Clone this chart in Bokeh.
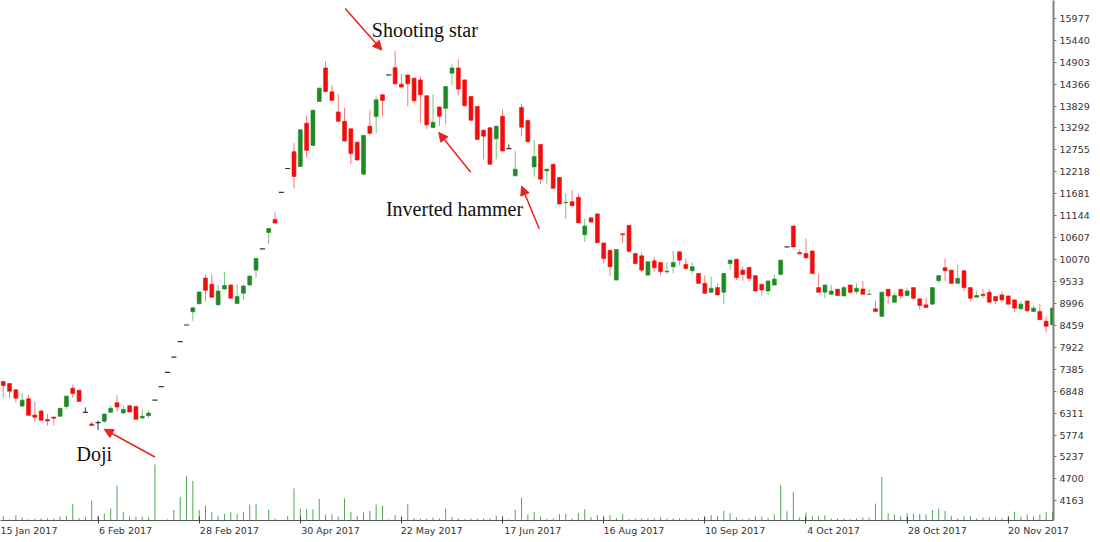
from bokeh.plotting import figure
from bokeh.models import Range1d, FixedTicker, ColumnDataSource, Arrow, NormalHead, Label
from bokeh.embed import file_html
from bokeh.resources import INLINE

opens = [7083, 7034, 6881, 6483, 6662, 6264, 6361, 6152, 6215, 6232,
         6475, 6920, 6871, 6329, 6045, 6079, 6111, 6329, 6565, 6313,
         6492, 6475, 6191, 6249, 6628, 6961, 7309, 7683, 8062, 8468,
         8791, 8986, 9617, 9464, 8961, 9350, 9447, 8995, 9245, 9447,
         9812, 10332, 10735, 11051, 11717, 12300, 12713, 12349, 13408, 12866,
         13943, 14762, 14178, 13685, 13457, 13272, 12946, 12161, 13335, 13571,
         14105, 14591, 14769, 14365, 14591, 14511, 14470, 14081, 13304, 13807,
         13773, 14633, 14762, 14470, 14064, 13821, 13238, 13296, 13029, 13578,
         12786, 12120, 13797, 13474, 12339, 12890, 12242, 12404, 12081, 11460,
         11489, 11595, 10679, 11092, 11189, 10477, 10298, 9569, 10703, 10906,
         10217, 10162, 9690, 10040, 9999, 9772, 9894, 10259, 9950, 9797,
         9731, 9488, 9270, 9384, 9270, 9974, 10079, 9812, 9877, 9676,
         9464, 9301, 9447, 9707, 10380, 10891, 10242, 10217, 10283, 9384,
         9270, 9221, 9343, 9180, 9447, 9286, 9350, 9215, 8864, 8679,
         9343, 9027, 9343, 9190, 9384, 9107, 8961, 8978, 9554, 9870,
         9812, 9488, 9797, 9384, 9148, 9221, 9270, 9165, 9204, 9180,
         9083, 8864, 9058, 8801, 8801, 8558, 8475]
highs = [7100, 7050, 6900, 6799, 6760, 6597, 6400, 6288, 6215, 6440,
         6740, 7010, 6880, 6451, 6104, 6128, 6300, 6492, 6750, 6492,
         6500, 6480, 6402, 6386, 6628, 6961, 7309, 7683, 8062, 8468,
         8900, 9290, 9707, 9707, 9440, 9773, 9460, 9464, 9464, 9680,
         10110, 10332, 10840, 11231, 11717, 12300, 12922, 13260, 13602, 13740,
         14280, 14932, 14348, 14123, 13782, 13290, 12960, 13120, 13741, 14081,
         14120, 14591, 15175, 14616, 14600, 14520, 14560, 14090, 14123, 13820,
         14320, 14852, 14973, 14480, 14080, 13830, 13260, 13310, 13350, 13741,
         12890, 12728, 13880, 13490, 12995, 12900, 12300, 12420, 12090, 11692,
         11773, 11692, 11068, 11100, 11200, 10490, 10310, 10330, 10703, 10920,
         10230, 10242, 10030, 10137, 10010, 9999, 10283, 10270, 10096, 9999,
         9740, 9676, 9651, 9488, 9740, 10070, 10090, 9894, 9890, 9690,
         9470, 9560, 9707, 10070, 10380, 10900, 10322, 10582, 10290, 9731,
         9460, 9447, 9360, 9423, 9460, 9481, 9544, 9350, 9044, 9280,
         9350, 9270, 9350, 9384, 9390, 9120, 9141, 9390, 9690, 10096,
         9820, 9950, 9810, 9390, 9301, 9350, 9350, 9170, 9286, 9190,
         9090, 9058, 9060, 8947, 8978, 8679, 8900]
lows = [6694, 6677, 6572, 6458, 6240, 6094, 6118, 6006, 6014, 6220,
        6410, 6694, 6590, 6329, 6000, 5899, 6069, 6305, 6354, 6300,
        6330, 6150, 6167, 6191, 6628, 6961, 7309, 7683, 8062, 8468,
        8572, 8980, 9044, 9140, 8950, 9340, 9110, 8980, 9083, 9440,
        9627, 10332, 10453, 10955, 11717, 12300, 11814, 12340, 12567, 12850,
        13930, 14161, 13960, 13442, 12960, 12404, 12490, 12150, 13109, 13158,
        13578, 14591, 14360, 14280, 13821, 13904, 13418, 13272, 13290, 13335,
        13376, 14348, 14088, 13820, 13470, 13000, 12526, 12390, 12526, 12710,
        12786, 12110, 13092, 12940, 12100, 11918, 11918, 11800, 11420, 11068,
        11380, 10960, 10502, 10980, 10470, 9974, 9676, 9560, 10485, 10234,
        9960, 9756, 9680, 9773, 9690, 9720, 9731, 9933, 9810, 9715,
        9480, 9230, 9250, 9190, 8978, 9810, 9569, 9554, 9530, 9290,
        9190, 9204, 9430, 9680, 10380, 10370, 10200, 10100, 9720, 9260,
        9124, 9210, 9170, 9170, 9221, 9221, 9210, 9215, 8790, 8670,
        9002, 9010, 9100, 9180, 9083, 8840, 8890, 8960, 9488, 9544,
        9480, 9480, 9286, 9044, 9140, 9124, 9010, 8978, 9020, 8970,
        8784, 8850, 8777, 8790, 8590, 8298, 8460]
closes = [6986, 6847, 6677, 6628, 6257, 6208, 6135, 6118, 6184, 6427,
          6726, 6791, 6597, 6329, 6006, 6079, 6288, 6427, 6458, 6402,
          6337, 6159, 6232, 6313, 6628, 6961, 7309, 7683, 8062, 8468,
          8888, 9277, 9318, 9148, 9301, 9433, 9124, 9165, 9423, 9666,
          10096, 10332, 10832, 10964, 11717, 12300, 12106, 13248, 12745, 13724,
          14268, 14186, 13967, 13457, 12971, 12665, 12509, 13109, 13165, 13984,
          13967, 14591, 14373, 14293, 14373, 13960, 14105, 13369, 13432, 13578,
          14307, 14762, 14244, 13838, 13481, 13012, 13092, 12404, 13335, 12728,
          12786, 12283, 13311, 12956, 12592, 12040, 12283, 11814, 11432, 11473,
          11391, 10971, 10891, 10988, 10485, 10096, 9894, 10315, 10679, 10273,
          9974, 9812, 10016, 9870, 9773, 9787, 9999, 10055, 9853, 9894,
          9488, 9245, 9367, 9204, 9731, 10055, 9627, 9707, 9610, 9301,
          9326, 9544, 9593, 10055, 10380, 10380, 10210, 10113, 9731, 9270,
          9447, 9301, 9190, 9384, 9270, 9367, 9221, 9221, 8801, 9270,
          9180, 9190, 9180, 9301, 9124, 8947, 8898, 9384, 9676, 9797,
          9488, 9610, 9384, 9124, 9190, 9190, 9027, 9058, 9083, 8978,
          8881, 8978, 8815, 8881, 8597, 8436, 8881]
volumes = [46, 11, 53, 32, 11, 18, 21, 21, 21, 39,
           46, 163, 25, 39, 199, 46, 67, 121, 348, 82,
           43, 39, 39, 32, 560, 0, 11, 106, 234, 443,
           397, 106, 149, 82, 46, 67, 82, 67, 82, 160,
           170, 0, 106, 21, 0, 46, 321, 120, 113, 113,
           215, 60, 60, 39, 222, 88, 46, 81, 95, 162,
           148, 11, 53, 32, 162, 25, 21, 21, 32, 21,
           120, 35, 21, 14, 21, 21, 21, 21, 46, 39,
           11, 106, 229, 60, 88, 39, 20, 21, 63, 67,
           21, 74, 113, 35, 53, 21, 53, 28, 67, 14,
           21, 21, 21, 21, 32, 21, 21, 21, 21, 21,
           21, 32, 53, 46, 95, 74, 32, 11, 21, 46,
           39, 25, 60, 352, 92, 286, 32, 81, 46, 46,
           53, 21, 21, 21, 14, 21, 28, 28, 169, 434,
           74, 60, 46, 74, 67, 67, 60, 106, 120, 95,
           46, 21, 46, 46, 21, 32, 35, 32, 21, 39,
           88, 39, 60, 39, 60, 88, 88]

date_labels = ["15 Jan 2017", "6 Feb 2017", "28 Feb 2017", "30 Apr 2017",
               "22 May 2017", "17 Jun 2017", "16 Aug 2017", "10 Sep 2017",
               "4 Oct 2017", "28 Oct 2017", "20 Nov 2017"]
date_bars = [-1, 15, 31, 47, 63, 79, 95, 111, 127, 143, 159]
price_ticks = [4163, 4700, 5237, 5774, 6311, 6848, 7385, 7922, 8459, 8996,
               9533, 10070, 10607, 11144, 11681, 12218, 12755, 13292, 13829,
               14366, 14903, 15440, 15977]

BAR_PX = 6.32
RED, GREEN, BLACK = "#f20d0d", "#1f8a24", "#333333"
RED_W, GREEN_W = "#f27a7a", "#7cc47f"

n = len(opens)
idx = list(range(n))
body_x, body_top, body_bot, body_col = [], [], [], []
wick_col = []
flat_x, flat_y = [], []
for i in idx:
    o, c = opens[i], closes[i]
    if c > o:
        wick_col.append(GREEN_W)
        body_x.append(i); body_top.append(c); body_bot.append(o); body_col.append(GREEN)
    elif c < o:
        wick_col.append(RED_W)
        body_x.append(i); body_top.append(o); body_bot.append(c); body_col.append(RED)
    else:
        wick_col.append(BLACK)
        flat_x.append(i); flat_y.append(o)

p = figure(frame_width=1053, frame_height=520,
           x_range=Range1d(-0.43, 166.16), y_range=Range1d(3681, 16414),
           output_backend="svg", toolbar_location=None,
           y_axis_location="right",
           min_border_left=0, min_border_top=0, min_border_bottom=0, min_border_right=0)
p.outline_line_color = None
p.grid.visible = False
p.extra_y_ranges = {"vol": Range1d(0, 5200)}

# volume
p.segment(x0=idx, y0=[0] * n, x1=idx, y1=volumes, y_range_name="vol",
          line_color="#4fa852", line_width=1)

# wicks
p.segment(x0=idx, y0=lows, x1=idx, y1=highs, line_color=wick_col, line_width=1)

# bodies
src = ColumnDataSource(dict(x=body_x, top=body_top, bottom=body_bot, color=body_col))
p.vbar(x="x", width=0.62, top="top", bottom="bottom", fill_color="color",
       line_color="color", line_width=0.6, source=src)

# flat bars (open == close)
p.segment(x0=[x - 0.4 for x in flat_x], y0=flat_y, x1=[x + 0.4 for x in flat_x],
          y1=flat_y, line_color=BLACK, line_width=1.2)

# x axis: ticks at bar positions, labels start at the tick
xa = p.xaxis[0]
centers = [round(b + len(t) * 2.75 / BAR_PX, 3) for b, t in zip(date_bars, date_labels)]
xa.ticker = FixedTicker(ticks=centers, minor_ticks=date_bars)
xa.major_label_overrides = {c: t for c, t in zip(centers, date_labels)}
xa.major_tick_in = 0
xa.major_tick_out = 0
xa.minor_tick_in = 4
xa.minor_tick_out = 3
xa.minor_tick_line_color = "#444444"
xa.axis_line_color = "#555555"
xa.major_label_standoff = 1
xa.major_label_text_font = "DejaVu Sans"
xa.major_label_text_font_size = "9.5px"
xa.major_label_text_color = "#333333"

ya = p.yaxis[0]
ya.ticker = FixedTicker(ticks=price_ticks)
ya.axis_line_color = "#808080"
ya.axis_line_width = 2
ya.major_tick_in = 0
ya.major_tick_out = 3
ya.major_tick_line_color = "#808080"
ya.minor_tick_out = 0
ya.minor_tick_in = 0
ya.major_label_standoff = 3
ya.major_label_text_font = "DejaVu Sans"
ya.major_label_text_font_size = "9.5px"
ya.major_label_text_color = "#333333"

# annotations
ann_color = "#e8231f"
for txt, x, y in [("Shooting star", 66.7, 15685), ("Inverted hammer", 71.4, 11311), ("Doji", 14.4, 5309)]:
    p.add_layout(Label(x=x, y=y, text=txt, text_align="center", text_baseline="middle",
                       text_font="Liberation Serif", text_font_size="20px", text_color="#111111"))

arrows = [(54.1, 16220, 59.9, 15199), (73.96, 12210, 68.9, 13182),
          (84.8, 10825, 82.0, 11870), (24.0, 5236, 15.97, 5916)]
for xs, ys, xe, ye in arrows:
    p.add_layout(Arrow(end=NormalHead(size=9, fill_color=ann_color, line_color=ann_color, line_width=1),
                       x_start=xs, y_start=ys, x_end=xe, y_end=ye,
                       line_color=ann_color, line_width=1.5))

open("out.html", "w").write(file_html(p, INLINE))
